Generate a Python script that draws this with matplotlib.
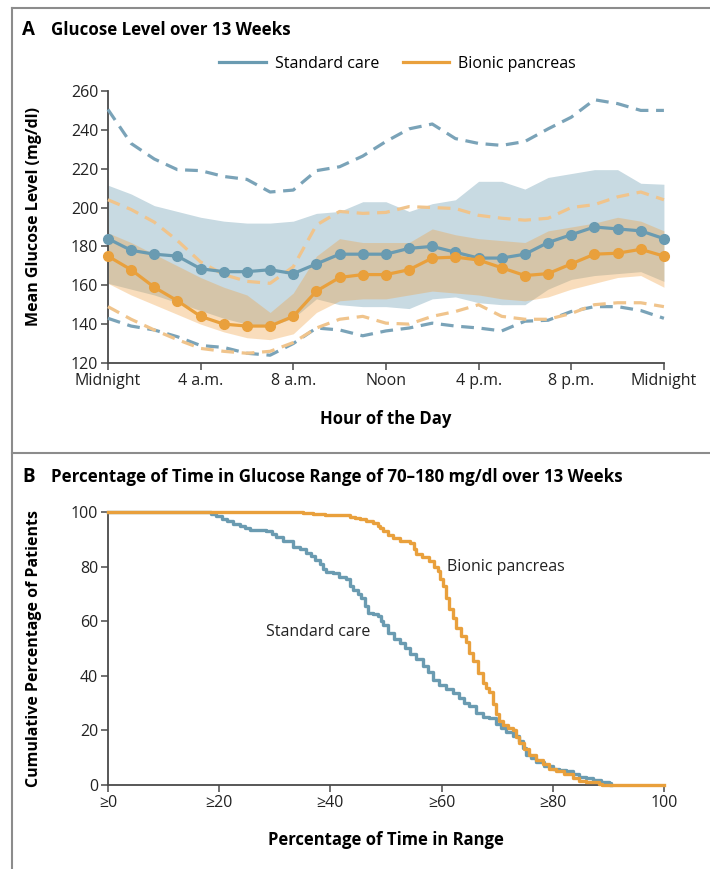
import numpy as np
import matplotlib
matplotlib.use("Agg")
import matplotlib.pyplot as plt
from matplotlib.lines import Line2D

plt.rcParams['font.family'] = ['Open Sans', 'DejaVu Sans']

BLUE = "#6a9bb1"
ORANGE = "#e9a03c"
BLUE_DASH = "#7aa3b8"
ORANGE_DASH = "#f0c48c"
AXC = "#4a4a4a"

# ---- panel A data (hourly, midnight to midnight) ----
hours = np.arange(25)
hour_ticks = [0, 4, 8, 12, 16, 20, 24]
hour_labels = ["Midnight", "4 a.m.", "8 a.m.", "Noon", "4 p.m.", "8 p.m.", "Midnight"]

std_mean = [184, 178, 176, 175, 168.5, 167, 167, 168, 166, 171, 176, 176, 176,
            179, 180, 177, 174, 174, 176, 182, 186, 190, 189, 188, 184]
std_q1 = [161, 158, 155, 151, 147, 143, 140, 139, 143, 153, 150, 149, 149,
          148, 153, 154, 151, 150, 150, 158, 163, 165, 166, 167, 162]
std_q3 = [211.5, 207, 201, 198, 195, 193, 192, 192, 193, 197, 198, 203, 203,
          198, 202, 204, 213.5, 213.5, 209.5, 215.5, 217.5, 219.5, 219.5, 212.5, 212]
std_p10 = [143, 139, 137, 133.5, 129, 128, 125, 124, 130, 138, 137, 134, 136.5,
           138, 140.5, 139, 138, 136.5, 141.5, 142, 146.5, 149, 149, 147, 143]
std_p90 = [250.5, 233, 225, 219.5, 219, 216, 214.5, 208, 209, 219, 221, 226.5, 234,
           240.5, 243, 235.5, 233, 232, 234, 240.5, 246.5, 255.5, 253.5, 250, 250]

bp_mean = [175, 168, 159, 152, 144, 140, 139, 139, 144, 157, 164, 165.5, 165.5,
           168, 174, 174.5, 173, 169, 165, 166, 171, 176, 176.5, 178.5, 175]
bp_q1 = [161, 155, 150, 145, 140, 136, 133, 132, 135, 146, 152, 153, 153,
         155, 157, 156, 155, 153, 152, 154, 158, 161, 164, 165, 159]
bp_q3 = [187, 182, 176, 170, 164, 159, 155, 146, 156, 175, 184, 182, 182,
         182, 189, 186, 184, 183, 182, 188, 190, 192, 195, 193, 188]
bp_p10 = [149, 142.5, 137, 132, 127.5, 126, 125, 126, 130.5, 138, 142.5, 144, 140.5,
          140, 144, 146.5, 150, 144, 142.5, 142.5, 145.5, 150, 151, 151, 149]
bp_p90 = [204, 199, 192.5, 183, 172, 165.5, 162, 161, 169.5, 191, 198, 197, 197.5,
          200.5, 200, 199.5, 196, 194.5, 193.5, 194.5, 200, 201.5, 205.5, 208, 204]

# ---- panel B data (cumulative % of patients with time in range >= x) ----
std_tir = [0, 17.4, 18.5, 19.5, 20.5, 21.5, 22.5, 23.7, 24.6, 25.5, 27, 28.5, 29.5,
           30.3, 31.5, 32.7, 33.3, 34.5, 35.7, 36.5, 37.2, 38.1, 38.7, 39.3, 40.5,
           41.5, 42.9, 43.5, 44.1, 45, 45.6, 46.2, 46.8, 47.7, 48.6, 49.2, 49.5,
           50.4, 51.5, 52.5, 53.4, 54.3, 55.4, 56.6, 57.5, 58.4, 59.6, 60.8, 62,
           63.2, 64.1, 65, 66.2, 67.4, 68.6, 69.8, 70.7, 71.6, 72.8, 74, 74.6, 75.2,
           76.1, 77, 78.5, 80, 81.2, 82.4, 83.6, 84.8, 86, 87.2, 88.7, 90.2, 90.5]
std_pct = [100, 100, 99.3, 98.5, 97.5, 96.5, 95.5, 95, 94, 93.5, 93.5, 93, 92,
           91, 89.5, 89.5, 87, 86.5, 85, 84, 82.5, 81, 79, 78, 77.5,
           76, 75.5, 73, 71.5, 70, 68.5, 65.5, 63, 62.5, 62, 60, 58.5,
           55.5, 53.5, 52, 50, 48, 46, 43.5, 41.5, 38.5, 36.5, 35, 33.5,
           32, 30, 29, 26.5, 25, 24.5, 22.5, 21, 19.5, 18, 16, 13.5, 11,
           10, 8.5, 7, 6, 5.5, 5, 4, 3, 2.5, 2, 1.2, 0.8, 0]

bp_tir = [0, 32.7, 35, 36.9, 39, 41.7, 43.5, 44.5, 45.3, 46.5, 47.7, 48.5, 49, 49.5,
          50.4, 51.2, 52.5, 54.3, 55, 55.4, 56.5, 57.8, 58.6, 59.3, 59.8, 60.2,
          60.8, 61.4, 62, 62.6, 63.5, 64.4, 65, 65.6, 66.5, 67.4, 68, 68.6, 69.2,
          69.8, 70.4, 71, 72, 72.8, 73.4, 74, 74.9, 75.8, 77, 78.2, 79.4, 80.6,
          82, 83.6, 84.8, 86, 88.4, 88.8, 100]
bp_pct = [100, 100, 99.6, 99.3, 99, 98.8, 98.3, 97.8, 97.3, 96.8, 96, 95, 94, 93,
          91.5, 90.5, 89.5, 88.8, 86.5, 84.5, 83.5, 82, 80, 78.5, 75.5, 73,
          68.5, 64.5, 61, 57.5, 54.5, 52.5, 48.5, 45.5, 41, 37.5, 35.5, 34, 29.5,
          26, 23.5, 22, 21, 20, 17.5, 15.5, 13, 11, 9, 7.5, 6, 5,
          4, 2.5, 1.5, 1, 0.3, 0, 0]
tir_ticks = [0, 20, 40, 60, 80, 100]
tir_labels = ["\u22650", "\u226520", "\u226540", "\u226560", "\u226580", "100"]

FS = 11.5
TFS = 12.2

fig = plt.figure(figsize=(7.1, 8.69), dpi=100)

# frame lines around the panels
for xy in [([0.0169, 1.0], [0.9908, 0.9908]),
           ([0.0169, 1.0], [0.4787, 0.4787]),
           ([0.0169, 0.0169], [0.0, 0.9908])]:
    fig.add_artist(Line2D(xy[0], xy[1], color="#8c8c8c", lw=1.5))

def style_axes(ax):
    for s in ["top", "right"]:
        ax.spines[s].set_visible(False)
    for s in ["left", "bottom"]:
        ax.spines[s].set_color(AXC)
        ax.spines[s].set_linewidth(1.3)
    ax.tick_params(direction="out", length=5, width=1.1, color=AXC,
                   labelsize=FS, labelcolor="#222222", pad=2)

# ---------------- panel A ----------------
axA = fig.add_axes([0.152, 0.5823, 0.7831, 0.313])
axA.fill_between(hours, std_q1, std_q3, color=BLUE, alpha=0.37, lw=0, zorder=1)
axA.fill_between(hours, bp_q1, bp_q3, color="#f0a040", alpha=0.35, lw=0, zorder=2)

for ys, c in [(std_p90, BLUE_DASH), (std_p10, BLUE_DASH),
              (bp_p90, ORANGE_DASH), (bp_p10, ORANGE_DASH)]:
    axA.plot(hours, ys, color=c, lw=2.3, dashes=(4, 2.4), zorder=3, clip_on=False)

axA.plot(hours, std_mean, color=BLUE, lw=2.3, marker="o", ms=7, zorder=5, clip_on=False)
axA.plot(hours, bp_mean, color=ORANGE, lw=2.3, marker="o", ms=7, zorder=5, clip_on=False)

axA.set_xlim(0, 24)
axA.set_ylim(120, 260)
axA.set_xticks(hour_ticks)
axA.set_xticklabels(hour_labels)
axA.set_yticks(np.arange(120, 261, 20))
style_axes(axA)
axA.set_xlabel("Hour of the Day", fontsize=12, fontweight="bold")
axA.xaxis.set_label_coords(0.5, -0.174)
axA.set_ylabel("Mean Glucose Level (mg/dl)", fontsize=FS, fontweight="bold")
axA.yaxis.set_label_coords(-0.119, 0.537)

handles = [Line2D([], [], color=BLUE, lw=2.3), Line2D([], [], color=ORANGE, lw=2.3)]
fig.legend(handles, ["Standard care", "Bionic pancreas"], loc="center",
           bbox_to_anchor=(0.56, 0.9264), ncol=2, frameon=False, fontsize=FS,
           handlelength=2.9, handletextpad=0.55, columnspacing=1.5)

fig.text(0.031, 0.9655, "A", fontsize=13.5, fontweight="bold", va="center")
fig.text(0.0718, 0.9655, "Glucose Level over 13 Weeks", fontsize=TFS,
         fontweight="bold", va="center")

# ---------------- panel B ----------------
axB = fig.add_axes([0.152, 0.0967, 0.7831, 0.3142])
axB.step(std_tir, std_pct, where="post", color=BLUE, lw=2.4, zorder=3, clip_on=False)
axB.step(bp_tir, bp_pct, where="post", color=ORANGE, lw=2.4, zorder=4, clip_on=False)
axB.set_xlim(0, 100)
axB.set_ylim(0, 100)
axB.set_xticks(tir_ticks)
axB.set_xticklabels(tir_labels)
axB.set_yticks(np.arange(0, 101, 20))
style_axes(axB)
axB.set_xlabel("Percentage of Time in Range", fontsize=12, fontweight="bold")
axB.xaxis.set_label_coords(0.5, -0.17)
axB.set_ylabel("Cumulative Percentage of Patients", fontsize=FS, fontweight="bold")
axB.yaxis.set_label_coords(-0.119, 0.5)

axB.text(28.5, 56, "Standard care", fontsize=FS, va="center", color="#222222")
axB.text(61, 80, "Bionic pancreas", fontsize=FS, va="center", color="#222222")

fig.text(0.031, 0.4511, "B", fontsize=13.5, fontweight="bold", va="center")
fig.text(0.0718, 0.4511, "Percentage of Time in Glucose Range of 70\u2013180 mg/dl over 13 Weeks",
         fontsize=TFS, fontweight="bold", va="center")

fig.savefig("out.png", dpi=100)
